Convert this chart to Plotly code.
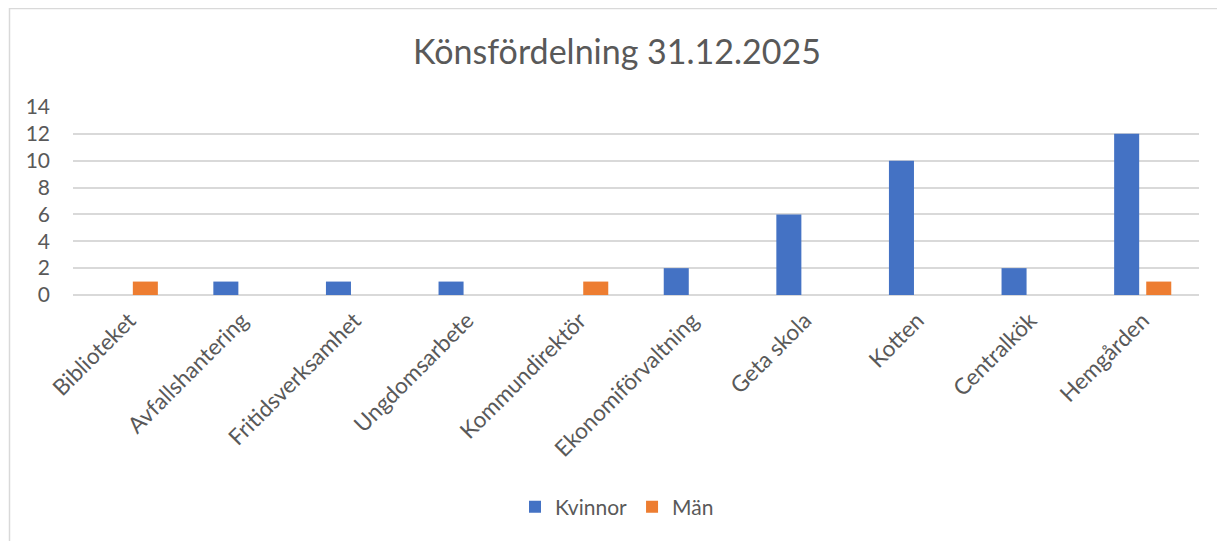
import plotly.graph_objects as go

categories = ["Biblioteket", "Avfallshantering", "Fritidsverksamhet", "Ungdomsarbete",
              "Kommundirektör", "Ekonomiförvaltning", "Geta skola", "Kotten",
              "Centralkök", "Hemgården"]
kvinnor = [0, 1, 1, 1, 0, 2, 6, 10, 2, 12]
man = [1, 0, 0, 0, 1, 0, 0, 0, 0, 1]
y_ticks = [0, 2, 4, 6, 8, 10, 12, 14]

# page body has an 8px default margin: figure origin sits at page (8, 8)
OFF = 8
PAGE_W, PAGE_H = 1225, 541
W, H = PAGE_W - OFF, PAGE_H - OFF
PL, PR, PT, PB = 73, 1199, 107, 295  # plot area in page pixels
L, R, T, B = PL - OFF, PAGE_W - PR, PT - OFF, PAGE_H - PB
pw, ph = W - L - R, H - T - B

FONT = "Lato"
GREY = "#595959"

fig = go.Figure()
fig.add_trace(go.Bar(name="Kvinnor", x=categories, y=kvinnor,
                     marker=dict(color="#4472C4", line=dict(width=0))))
fig.add_trace(go.Bar(name="Män", x=categories, y=man,
                     marker=dict(color="#ED7D31", line=dict(width=0))))

def px_x(x):  # page px -> paper
    return (x - PL) / pw

def px_y(y):
    return (PB - y) / ph

fig.update_layout(
    width=W, height=H,
    margin=dict(l=L, r=R, t=T, b=B, autoexpand=False),
    paper_bgcolor="white", plot_bgcolor="white",
    barmode="group", bargap=0.43, bargroupgap=0.22,
    title=dict(text="Könsfördelning 31.12.2025", x=(617 - OFF) / W, xanchor="center",
               y=1 - (52 - OFF) / H, yanchor="middle",
               font=dict(family=FONT, size=34, color=GREY)),
    font=dict(family=FONT, color=GREY),
    legend=dict(orientation="h", x=px_x(617), xanchor="center",
                y=px_y(507), yanchor="middle",
                font=dict(family=FONT, size=21, color=GREY),
                itemwidth=30, bgcolor="rgba(0,0,0,0)"),
    xaxis=dict(tickangle=-45, tickfont=dict(family=FONT, size=22.5, color=GREY),
               showgrid=False, showline=False, ticks="", zeroline=False,
               ticklabelstandoff=7),
    yaxis=dict(range=[0, 14], tickvals=y_ticks, showgrid=True, gridcolor="#D9D9D9",
               gridwidth=1.5, zeroline=True, zerolinecolor="#D9D9D9", zerolinewidth=1.5,
               tickfont=dict(family=FONT, size=21, color=GREY), ticks="",
               ticklabelstandoff=22, showline=False),
    shapes=[
        dict(type="line", xref="paper", yref="paper", x0=px_x(9), x1=px_x(PAGE_W + 5),
             y0=px_y(8.5), y1=px_y(8.5), line=dict(color="#D9D9D9", width=1.5)),
        dict(type="line", xref="paper", yref="paper", x0=px_x(9.5), x1=px_x(9.5),
             y0=px_y(8), y1=px_y(PAGE_H + 5), line=dict(color="#D9D9D9", width=1.5)),
    ],
)

fig.write_html("out.html")
